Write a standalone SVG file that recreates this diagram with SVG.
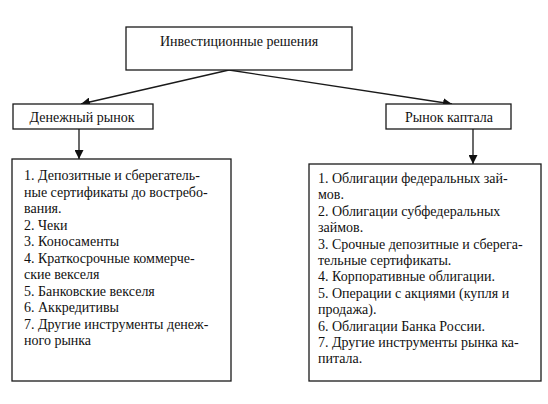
<svg xmlns="http://www.w3.org/2000/svg" width="548" height="404" viewBox="0 0 548 404">
<style>
.box{fill:#fff;stroke:#1a1a1a;stroke-width:1.3}
.t{font-family:"Liberation Serif","Times New Roman",serif;font-size:14px;fill:#111}
.c{text-anchor:middle}
.ln{stroke:#1a1a1a;stroke-width:1.3;fill:none}
</style>
<defs>
<marker id="ah" viewBox="0 0 10 10" refX="10" refY="5" markerWidth="9" markerHeight="9" markerUnits="userSpaceOnUse" orient="auto">
<path d="M0,0 L10,5 L0,10 z" fill="#111"/>
</marker>
</defs>
<rect width="548" height="404" fill="#fff"/>
<g id="connectors">
<line class="ln" x1="229" y1="70" x2="81" y2="104" marker-end="url(#ah)"/>
<line class="ln" x1="229" y1="70" x2="452" y2="104" marker-end="url(#ah)"/>
<line class="ln" x1="79" y1="129" x2="79" y2="159" marker-end="url(#ah)"/>
<line class="ln" x1="473" y1="129" x2="473" y2="164" marker-end="url(#ah)"/>
</g>
<g id="invest">
<rect class="box" x="126" y="27" width="226" height="43"/>
<text class="t c" x="239" y="46">Инвестиционные решения</text>
</g>
<g id="money">
<rect class="box" x="13" y="104" width="140" height="25"/>
<text class="t c" x="82" y="122">Денежный рынок</text>
</g>
<g id="capital">
<rect class="box" x="386" y="104" width="125" height="25"/>
<text class="t c" x="449" y="122">Рынок каптала</text>
</g>
<g id="money-list">
<rect class="box" x="12" y="159" width="219" height="222"/>
<text class="t" x="24" y="180">
<tspan x="24" y="180">1. Депозитные и сберегатель-</tspan>
<tspan x="24" y="196.5">ные сертификаты до востребо-</tspan>
<tspan x="24" y="213">вания.</tspan>
<tspan x="24" y="229.5">2. Чеки</tspan>
<tspan x="24" y="246">3. Коносаменты</tspan>
<tspan x="24" y="262.5">4. Краткосрочные коммерче-</tspan>
<tspan x="24" y="279">ские векселя</tspan>
<tspan x="24" y="295.5">5. Банковские векселя</tspan>
<tspan x="24" y="312">6. Аккредитивы</tspan>
<tspan x="24" y="328.5">7. Другие инструменты денеж-</tspan>
<tspan x="24" y="345">ного рынка</tspan>
</text>
</g>
<g id="capital-list">
<rect class="box" x="309" y="164" width="232" height="217"/>
<text class="t" x="318" y="183">
<tspan x="318" y="183">1. Облигации федеральных зай-</tspan>
<tspan x="318" y="199.4">мов.</tspan>
<tspan x="318" y="215.8">2. Облигации субфедеральных</tspan>
<tspan x="318" y="232.2">займов.</tspan>
<tspan x="318" y="248.6">3. Срочные депозитные и сберега-</tspan>
<tspan x="318" y="265">тельные сертификаты.</tspan>
<tspan x="318" y="281.4">4. Корпоративные облигации.</tspan>
<tspan x="318" y="297.8">5. Операции с акциями (купля и</tspan>
<tspan x="318" y="314.2">продажа).</tspan>
<tspan x="318" y="330.6">6. Облигации Банка России.</tspan>
<tspan x="318" y="347">7. Другие инструменты рынка ка-</tspan>
<tspan x="318" y="363.4">питала.</tspan>
</text>
</g>
</svg>
